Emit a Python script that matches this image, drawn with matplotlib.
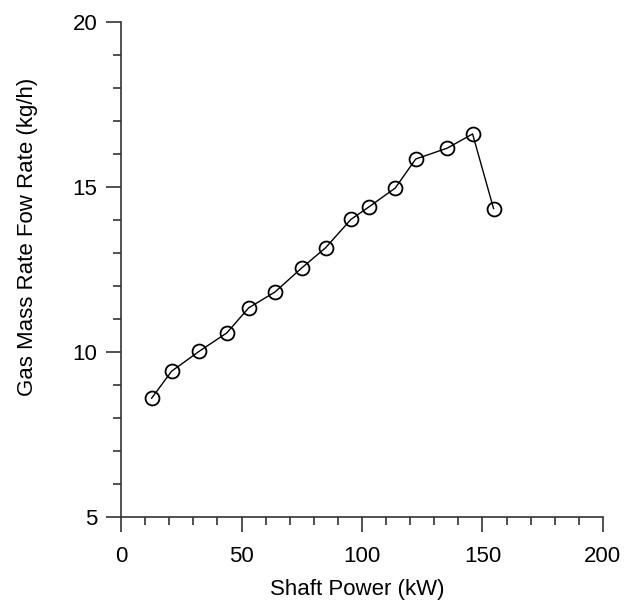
import matplotlib.pyplot as plt
from matplotlib.ticker import MultipleLocator

# Shaft power (kW) vs gas mass flow rate (kg/h)
shaft_power = [12.7, 21.0, 32.4, 43.9, 53.0, 63.9, 75.0, 84.9, 95.4,
               102.9, 113.8, 122.3, 135.4, 145.9, 154.6]
gas_flow = [8.59, 9.41, 10.01, 10.57, 11.33, 11.81, 12.54, 13.15, 14.01,
            14.39, 14.96, 15.84, 16.17, 16.60, 14.34]

plt.rcParams['font.family'] = ['Liberation Sans', 'DejaVu Sans']

fig = plt.figure(figsize=(6.36, 6.05), dpi=100)
ax = fig.add_axes([0.1903, 0.146, 0.7577, 0.818])

ax.plot(shaft_power, gas_flow, color='black', lw=1, marker='o',
        markersize=10, markerfacecolor='none', markeredgecolor='black',
        markeredgewidth=1.3)

ax.set_xlim(0, 200)
ax.set_ylim(5, 20)
ax.xaxis.set_major_locator(MultipleLocator(50))
ax.xaxis.set_minor_locator(MultipleLocator(10))
ax.yaxis.set_major_locator(MultipleLocator(5))
ax.yaxis.set_minor_locator(MultipleLocator(1))

for s in ['top', 'right']:
    ax.spines[s].set_visible(False)
for s in ['left', 'bottom']:
    ax.spines[s].set_color('#333333')
    ax.spines[s].set_linewidth(1.2)

ax.tick_params(which='major', direction='out', length=11, width=1.2,
               color='#333333', labelsize=16)
ax.tick_params(axis='x', which='major', pad=10)
ax.tick_params(axis='y', which='major', pad=6)
ax.tick_params(which='minor', direction='out', length=5.5, width=1.2,
               color='#333333')

ax.set_xlabel('Shaft Power (kW)', fontsize=16)
ax.set_ylabel('Gas Mass Rate Fow Rate (kg/h)', fontsize=16)
ax.xaxis.set_label_coords(0.49, -0.147)
ax.yaxis.set_label_coords(-0.195, 0.566)
ax.xaxis.label.set_verticalalignment('center')
ax.yaxis.label.set_verticalalignment('center')

fig.savefig('out.png', dpi=100)
